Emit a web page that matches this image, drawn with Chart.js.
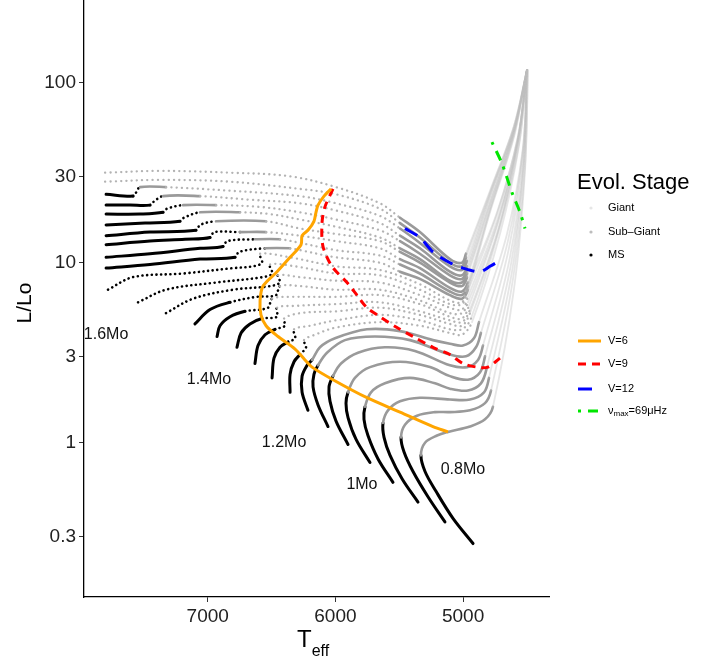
<!DOCTYPE html>
<html>
<head>
<meta charset="utf-8">
<title>HR diagram tracks</title>
<script src="https://cdn.jsdelivr.net/npm/chart.js"></script>
<style>
  html, body { margin: 0; padding: 0; background: #fff; }
  #wrap { width: 723px; height: 662px; }
</style>
</head>
<body>
<div id="wrap"><canvas id="hr" width="723" height="662"></canvas></div>
<script>
// Axis ticks
const xTicks = [7000, 6000, 5000];
const yTicks = [0.3, 1, 3, 10, 30, 100];

// -----------------------------
// Evolutionary tracks: [Teff, log L, stage]
// M = MS, m = MS (sparse), S = Sub-Giant, s = Sub-Giant (sparse), G = Giant
// -----------------------------
const trk080 = [
  [4922,-0.56,'M'],[5079,-0.42,'M'],[5212,-0.27,'M'],[5298,-0.16,'M'],
  [5330,-0.07,'S'],[5298,0.00,'S'],[5204,0.04,'S'],[5118,0.06,'S'],[4946,0.09,'S'],[4828,0.13,'S'],
  [4766,0.20,'G'],[4602,0.85,'G'],[4516,1.50,'G'],[4492,2.07,'G']
];
const trk085 = [
  [5142,-0.44,'M'],[5275,-0.30,'M'],[5392,-0.16,'M'],[5463,-0.05,'M'],
  [5486,0.03,'S'],[5455,0.10,'S'],[5361,0.15,'S'],[5220,0.17,'S'],[5103,0.17,'S'],[4946,0.18,'S'],[4828,0.22,'S'],
  [4781,0.29,'G'],[4609,0.91,'G'],[4516,1.53,'G'],[4492,2.07,'G']
];
const trk090 = [
  [5353,-0.33,'M'],[5478,-0.20,'M'],[5572,-0.07,'M'],[5619,0.03,'M'],
  [5627,0.11,'S'],[5588,0.18,'S'],[5494,0.23,'S'],[5338,0.25,'S'],[5103,0.24,'S'],[4946,0.24,'S'],[4836,0.28,'S'],
  [4797,0.36,'G'],[4617,0.95,'G'],[4524,1.55,'G'],[4500,2.07,'G']
];
const trk095 = [
  [5549,-0.22,'M'],[5666,-0.09,'M'],[5745,0.04,'M'],[5776,0.13,'M'],
  [5768,0.20,'S'],[5721,0.28,'S'],[5612,0.33,'S'],[5416,0.36,'S'],[5220,0.33,'S'],[5103,0.30,'S'],[4962,0.29,'S'],[4860,0.33,'S'],
  [4813,0.42,'G'],[4625,0.99,'G'],[4524,1.56,'G'],[4500,2.07,'G']
];
const trk100 = [
  [5729,-0.11,'M'],[5839,0.02,'M'],[5901,0.14,'M'],[5917,0.22,'M'],
  [5901,0.28,'S'],[5847,0.36,'S'],[5729,0.42,'S'],[5494,0.45,'S'],[5259,0.42,'S'],[5103,0.37,'S'],[4962,0.35,'S'],[4868,0.39,'S'],
  [4828,0.48,'G'],[4633,1.03,'G'],[4524,1.59,'G'],[4500,2.07,'G']
];
const trk105 = [
  [5901,-0.01,'M'],[5995,0.12,'M'],[6042,0.23,'M'],[6050,0.31,'M'],
  [6019,0.37,'S'],[5956,0.44,'S'],[5823,0.50,'S'],[5612,0.53,'S'],[5377,0.51,'S'],[5103,0.43,'S'],[4969,0.42,'S'],[4883,0.46,'S'],
  [4844,0.54,'G'],[4641,1.08,'G'],[4531,1.60,'G'],[4500,2.07,'G']
];
const trk110 = [
  [6058,0.09,'M'],[6136,0.21,'M'],[6175,0.31,'M'],[6168,0.38,'M'],
  [6136,0.43,'S'],[6066,0.50,'S'],[5925,0.57,'S'],[5690,0.59,'S'],[5416,0.57,'S'],[5103,0.49,'S'],[4977,0.48,'S'],[4899,0.53,'S'],
  [4860,0.61,'G'],[4649,1.12,'G'],[4531,1.63,'G'],[4500,2.07,'G']
];
const trk115 = [
  [6215,0.18,'M'],[6261,0.28,'M'],[6261,0.37,'M'],[6222,0.43,'M'],
  [6183,0.46,'S'],[6121,0.53,'S'],[6003,0.58,'S'],[5753,0.63,'S'],[5494,0.62,'S'],[5236,0.57,'S'],[5103,0.55,'S'],[5001,0.54,'S'],[4915,0.58,'S'],
  [4875,0.67,'G'],[4656,1.16,'G'],[4531,1.64,'G'],[4500,2.07,'G']
];
const trk120 = [
  [6355,0.28,'M'],[6355,0.38,'M'],[6324,0.45,'M'],
  [6277,0.49,'m'],[6230,0.53,'m'],
  [6246,0.57,'s'],[6160,0.60,'s'],[5995,0.64,'s'],[5651,0.67,'s'],[5338,0.65,'s'],[5103,0.61,'s'],[5009,0.60,'s'],
  [4930,0.67,'G'],[4711,1.16,'G'],[4562,1.65,'G'],[4500,2.07,'G']
];
const trk125 = [
  [6496,0.36,'M'],[6481,0.47,'M'],[6434,0.53,'M'],
  [6371,0.56,'m'],[6316,0.58,'m'],
  [6324,0.63,'s'],[6199,0.65,'s'],[5995,0.68,'s'],[5651,0.71,'s'],[5338,0.68,'s'],[5103,0.63,'s'],[5009,0.63,'s'],
  [4938,0.69,'G'],[4719,1.18,'G'],[4562,1.66,'G'],[4500,2.07,'G']
];
const trk130 = [
  [6630,0.44,'M'],[6606,0.54,'M'],[6551,0.60,'M'],
  [6473,0.63,'m'],[6395,0.65,'m'],
  [6402,0.69,'s'],[6277,0.72,'s'],[5995,0.73,'s'],[5651,0.75,'s'],[5338,0.71,'s'],[5103,0.66,'s'],[5009,0.65,'s'],
  [4946,0.72,'G'],[4719,1.19,'G'],[4570,1.67,'G'],[4500,2.07,'G']
];
const trk135 = [
  [6771,0.53,'M'],[6739,0.61,'M'],[6669,0.66,'M'],
  [6575,0.69,'m'],[6457,0.70,'m'],
  [6457,0.75,'s'],[6316,0.76,'s'],[5995,0.77,'s'],[5651,0.78,'s'],[5338,0.73,'s'],[5103,0.68,'s'],[5009,0.67,'s'],
  [4946,0.74,'G'],[4719,1.20,'G'],[4570,1.67,'G'],[4500,2.07,'G']
];
const trk140 = [
  [6927,0.59,'M'],[6904,0.65,'M'],[6825,0.70,'M'],
  [6708,0.73,'m'],[6528,0.75,'m'],
  [6496,0.80,'s'],[6355,0.81,'s'],[5995,0.81,'s'],[5651,0.82,'s'],[5338,0.77,'s'],[5103,0.70,'s'],[5009,0.69,'s'],
  [4954,0.76,'G'],[4727,1.22,'G'],[4570,1.68,'G'],[4500,2.07,'G']
];
const trk145 = [
  [7100,0.66,'M'],[6982,0.74,'M'],[6825,0.78,'m'],[6622,0.81,'m'],[6465,0.82,'m'],
  [6434,0.87,'s'],[6277,0.87,'s'],[5995,0.85,'s'],[5651,0.85,'s'],[5338,0.79,'s'],[5103,0.72,'s'],[5009,0.72,'s'],
  [4962,0.78,'G'],[4727,1.23,'G'],[4570,1.68,'G'],[4500,2.07,'G']
];
const trk150 = [
  [7327,0.72,'m'],[7115,0.80,'m'],[6802,0.85,'m'],[6512,0.87,'m'],[6434,0.89,'m'],
  [6449,0.93,'s'],[6277,0.92,'s'],[5995,0.90,'s'],[5651,0.89,'s'],[5338,0.82,'s'],[5103,0.75,'s'],[5009,0.74,'s'],
  [4962,0.81,'G'],[4727,1.25,'G'],[4570,1.69,'G'],[4500,2.07,'G']
];
const trk155 = [
  [7546,0.78,'m'],[7327,0.85,'m'],[6935,0.89,'m'],[6567,0.92,'m'],[6496,0.94,'m'],
  [6512,0.99,'s'],[6316,0.98,'s'],[5995,0.94,'s'],[5651,0.93,'s'],[5338,0.85,'s'],[5103,0.77,'s'],[5009,0.77,'s'],
  [4969,0.83,'G'],[4734,1.27,'G'],[4570,1.70,'G'],[4500,2.07,'G']
];
const trk160 = [
  [7781,0.85,'m'],[7585,0.92,'m'],[7193,0.94,'m'],[6802,0.97,'m'],[6645,0.98,'m'],[6575,1.00,'m'],
  [6590,1.05,'s'],[6355,1.03,'s'],[5995,0.98,'s'],[5651,0.96,'s'],[5338,0.88,'s'],[5103,0.79,'s'],[5009,0.78,'s'],
  [4977,0.85,'G'],[4734,1.28,'G'],[4570,1.70,'G'],[4500,2.07,'G']
];
const trk165 = [
  [7796,0.97,'M'],[7452,0.99,'M'],[7060,1.02,'M'],[6786,1.03,'m'],[6755,1.06,'m'],
  [6551,1.08,'S'],[6355,1.08,'s'],[6277,1.07,'s'],[5995,1.03,'s'],[5651,1.00,'s'],
  [5494,0.95,'S'],[5338,0.91,'S'],[5103,0.82,'S'],[5009,0.80,'S'],
  [4962,0.85,'G'],[4789,1.28,'G'],[4601,1.70,'G'],[4500,2.07,'G']
];
const trk170 = [
  [7796,1.03,'M'],[7452,1.05,'M'],[7060,1.08,'M'],[6880,1.09,'m'],[6849,1.12,'m'],
  [6630,1.13,'S'],[6434,1.13,'s'],[6277,1.11,'s'],[5995,1.07,'s'],[5651,1.04,'s'],
  [5494,0.99,'S'],[5338,0.94,'S'],[5103,0.84,'S'],[5009,0.82,'S'],
  [4962,0.87,'G'],[4789,1.29,'G'],[4601,1.71,'G'],[4500,2.07,'G']
];
const trk175 = [
  [7796,1.10,'M'],[7452,1.12,'M'],[7178,1.13,'M'],[6982,1.14,'m'],[6951,1.17,'m'],
  [6747,1.17,'S'],[6543,1.17,'s'],[6277,1.15,'s'],[5995,1.12,'s'],[5651,1.08,'s'],
  [5494,1.02,'S'],[5338,0.97,'S'],[5103,0.86,'S'],[5009,0.84,'S'],
  [4962,0.89,'G'],[4789,1.30,'G'],[4601,1.72,'G'],[4500,2.07,'G']
];
const trk180 = [
  [7796,1.15,'M'],[7452,1.17,'M'],[7092,1.18,'m'],[7060,1.21,'m'],
  [6935,1.23,'S'],[6543,1.23,'s'],[6277,1.19,'s'],[5995,1.16,'s'],[5651,1.12,'s'],
  [5494,1.06,'S'],[5338,1.00,'S'],[5103,0.89,'S'],[5009,0.87,'S'],
  [4969,0.92,'G'],[4789,1.32,'G'],[4601,1.73,'G'],[4500,2.07,'G']
];
const trk185 = [
  [7796,1.21,'M'],[7491,1.22,'M'],[7217,1.23,'m'],[7186,1.25,'m'],
  [7060,1.28,'S'],[6747,1.28,'s'],[6512,1.27,'s'],[6277,1.24,'s'],[5995,1.20,'s'],[5651,1.14,'s'],
  [5494,1.08,'S'],[5338,1.02,'S'],[5103,0.90,'S'],[5009,0.89,'S'],
  [4969,0.94,'G'],[4789,1.33,'G'],[4601,1.73,'G'],[4500,2.07,'G']
];
const trk190 = [
  [7796,1.27,'M'],[7530,1.27,'M'],[7350,1.28,'m'],[7319,1.30,'m'],
  [7193,1.32,'S'],[6935,1.32,'s'],[6590,1.31,'s'],[6277,1.28,'s'],[5995,1.24,'s'],[5651,1.18,'s'],
  [5494,1.12,'S'],[5338,1.05,'S'],[5103,0.93,'S'],[5009,0.91,'S'],
  [4969,0.96,'G'],[4789,1.35,'G'],[4601,1.74,'G'],[4500,2.07,'G']
];
const trk195 = [
  [7796,1.32,'M'],[7608,1.32,'M'],[7452,1.32,'m'],[7421,1.34,'m'],
  [7350,1.37,'S'],[7060,1.37,'s'],[6669,1.35,'s'],[6277,1.33,'s'],[5995,1.29,'s'],[5651,1.22,'s'],
  [5494,1.15,'S'],[5338,1.08,'S'],[5103,0.95,'S'],[5009,0.93,'S'],
  [4969,0.98,'G'],[4789,1.37,'G'],[4601,1.74,'G'],[4500,2.07,'G']
];
const trk200 = [
  [7796,1.38,'M'],[7585,1.37,'m'],[7561,1.39,'m'],
  [7530,1.42,'S'],[7327,1.42,'s'],[6825,1.40,'s'],[6277,1.37,'s'],[5995,1.33,'s'],[5651,1.26,'s'],
  [5494,1.19,'S'],[5338,1.11,'S'],[5103,0.98,'S'],[5009,0.96,'S'],
  [4969,1.01,'G'],[4789,1.38,'G'],[4601,1.75,'G'],[4500,2.07,'G']
];
const trk205 = [
  [7804,1.45,'s'],[7374,1.46,'s'],[6825,1.45,'s'],[6277,1.41,'s'],[5995,1.38,'s'],[5651,1.30,'s'],
  [5494,1.22,'S'],[5338,1.14,'S'],[5103,1.00,'S'],[5009,0.98,'S'],
  [4977,1.03,'G'],[4789,1.39,'G'],[4601,1.76,'G'],[4500,2.07,'G']
];
const trk210 = [
  [7804,1.50,'s'],[7374,1.51,'s'],[6825,1.50,'s'],[6355,1.48,'s'],[5995,1.42,'s'],[5651,1.33,'s'],
  [5494,1.25,'S'],[5338,1.17,'S'],[5103,1.02,'S'],[5009,1.00,'S'],
  [4977,1.05,'G'],[4789,1.40,'G'],[4601,1.76,'G'],[4500,2.07,'G']
];

const tracks = [trk080, trk085, trk090, trk095, trk100, trk105, trk110, trk115, trk120,
  trk125, trk130, trk135, trk140, trk145, trk150, trk155, trk160, trk165, trk170,
  trk175, trk180, trk185, trk190, trk195, trk200, trk205, trk210];

// Mass labels
const massLabels = ['1.6Mo', '1.4Mo', '1.2Mo', '1Mo', '0.8Mo'];
const massLabelTeff = [7796, 6990, 6402, 5792, 5001];
const massLabelLogL = [0.60, 0.35, 0.00, -0.23, -0.15];

// Iso-magnitude / numax lines
const v6Teff  = [6034, 6089, 6136, 6152, 6168, 6215, 6261, 6269, 6355, 6457, 6567, 6590, 6583, 6543, 6449, 6316, 6238, 6183, 6019, 5753, 5494, 5236, 5118];
const v6LogL  = [1.41, 1.37, 1.32, 1.28, 1.23, 1.18, 1.15, 1.10, 1.03, 0.95, 0.87, 0.79, 0.71, 0.65, 0.59, 0.52, 0.46, 0.42, 0.35, 0.25, 0.17, 0.09, 0.06];
const v9Teff  = [6019, 6082, 6105, 6097, 6027, 5909, 5831, 5753, 5651, 5518, 5392, 5236, 5103, 5001, 4891, 4805, 4711];
const v9LogL  = [1.41, 1.31, 1.22, 1.09, 0.98, 0.89, 0.82, 0.75, 0.70, 0.64, 0.59, 0.53, 0.49, 0.44, 0.42, 0.42, 0.47];
const v12Teff = [5455, 5338, 5236, 5103, 5001, 4868, 4789, 4695];
const v12LogL = [1.19, 1.14, 1.06, 1.00, 0.97, 0.95, 0.98, 1.02];
const numaxTeff = [4774, 4695, 4617, 4554, 4515];
const numaxLogL = [1.67, 1.55, 1.39, 1.28, 1.19];

const FONT = '"Liberation Sans", Arial, Helvetica, sans-serif';

const stageStyle = {
  M: { color: '#000000', width: 3,   dash: [] },
  m: { color: '#000000', width: 2.6, dash: [0.1, 4.6] },
  S: { color: '#9a9a9a', width: 2.6, dash: [] },
  s: { color: '#b3b3b3', width: 2.3, dash: [0.1, 5.2] },
  G: { color: 'rgba(190,190,190,0.38)', width: 1.8, dash: [] }
};

const lineKeys = [
  { label: 'V=6',  color: '#FFA500', dash: [] },
  { label: 'V=9',  color: '#FF0000', dash: [8, 6] },
  { label: 'V=12', color: '#0000FF', dash: [14, 9] },
  { label: 'numax', color: '#00E600', dash: [3, 7, 10, 7] }
];

function toPoints(teff, logL) {
  return teff.map((t, i) => ({ x: t, y: Math.pow(10, logL[i]) }));
}

function lineDataset(teff, logL, key) {
  return {
    data: toPoints(teff, logL),
    showLine: true, pointRadius: 0, tension: 0.3,
    borderColor: key.color, borderWidth: 3, borderDash: key.dash,
    borderCapStyle: 'butt', fill: false
  };
}

function trackDataset(trk) {
  const st = c => stageStyle[trk[c.p0DataIndex][2]];
  return {
    data: trk.map(p => ({ x: p[0], y: Math.pow(10, p[1]) })),
    showLine: true, pointRadius: 0, tension: 0.35,
    borderColor: '#000', borderWidth: 2, fill: false,
    borderCapStyle: 'round', borderJoinStyle: 'round',
    segment: {
      borderColor: c => st(c).color,
      borderWidth: c => st(c).width,
      borderDash: c => st(c).dash
    }
  };
}

// -----------------------------
// Labels, axis titles and legend
// -----------------------------
const annotations = {
  id: 'annotations',
  afterDraw(chart) {
    const { ctx, scales: { x, y } } = chart;
    ctx.save();

    // mass labels
    ctx.fillStyle = '#111';
    ctx.font = '16px ' + FONT;
    ctx.textAlign = 'center';
    ctx.textBaseline = 'middle';
    massLabels.forEach((t, i) => {
      ctx.fillText(t, x.getPixelForValue(massLabelTeff[i]), y.getPixelForValue(Math.pow(10, massLabelLogL[i])));
    });

    // y title
    ctx.save();
    ctx.translate(25, 303);
    ctx.rotate(-Math.PI / 2);
    ctx.font = '21px ' + FONT;
    ctx.fillStyle = '#000';
    ctx.fillText('L/Lo', 0, 0);
    ctx.restore();

    // x title with subscript
    ctx.textAlign = 'left';
    ctx.textBaseline = 'alphabetic';
    ctx.fillStyle = '#000';
    ctx.font = '24px ' + FONT;
    ctx.fillText('T', 297, 647);
    const tw = ctx.measureText('T').width;
    ctx.font = '16px ' + FONT;
    ctx.fillText('eff', 297 + tw, 656);

    // legend: evolutionary stage
    ctx.font = '22px ' + FONT;
    ctx.fillText('Evol. Stage', 577, 189);
    const stageNames = ['Giant', 'Sub\u2013Giant', 'MS'];
    const stageDots = ['#e6e6e6', '#bdbdbd', '#000'];
    const stageY = [208, 232, 255];
    ctx.font = '11px ' + FONT;
    ctx.textBaseline = 'middle';
    stageNames.forEach((n, i) => {
      ctx.fillStyle = stageDots[i];
      ctx.beginPath();
      ctx.arc(591, stageY[i], 1.6, 0, Math.PI * 2);
      ctx.fill();
      ctx.fillStyle = '#000';
      ctx.fillText(n, 608, stageY[i]);
    });

    // legend: lines
    const keyY = [341, 364, 389, 411];
    lineKeys.forEach((k, i) => {
      ctx.strokeStyle = k.color;
      ctx.lineWidth = 3;
      ctx.setLineDash(k.dash);
      ctx.beginPath();
      ctx.moveTo(578, keyY[i]);
      ctx.lineTo(601, keyY[i]);
      ctx.stroke();
      ctx.setLineDash([]);
      ctx.fillStyle = '#000';
      if (k.label === 'numax') {
        ctx.font = '11px ' + FONT;
        ctx.fillText('\u03BD', 608, keyY[i]);
        let px = 608 + ctx.measureText('\u03BD').width;
        ctx.font = '8px ' + FONT;
        ctx.fillText('max', px, keyY[i] + 3);
        px += ctx.measureText('max').width;
        ctx.font = '11px ' + FONT;
        ctx.fillText('=69\u03BCHz', px, keyY[i]);
      } else {
        ctx.font = '11px ' + FONT;
        ctx.fillText(k.label, 608, keyY[i]);
      }
    });
    ctx.restore();
  }
};

const datasets = [
  lineDataset(v6Teff, v6LogL, lineKeys[0]),
  lineDataset(v9Teff, v9LogL, lineKeys[1]),
  lineDataset(v12Teff, v12LogL, lineKeys[2]),
  lineDataset(numaxTeff, numaxLogL, lineKeys[3]),
  ...tracks.map(trackDataset)
];

const axisCommon = {
  border: { display: true, color: '#000', width: 1.3 },
  grid: { display: true, drawOnChartArea: false, drawTicks: true, tickLength: 5, tickColor: '#333', tickWidth: 1 },
  ticks: { font: { family: FONT, size: 19 }, color: '#222', padding: 3, maxRotation: 0, autoSkip: false }
};

new Chart(document.getElementById('hr'), {
  type: 'scatter',
  data: { datasets },
  options: {
    responsive: false,
    animation: false,
    devicePixelRatio: 1,
    layout: { padding: { left: 0, right: 174, top: 0, bottom: 0 } },
    plugins: { legend: { display: false }, tooltip: { enabled: false } },
    scales: {
      x: {
        ...axisCommon,
        type: 'linear', reverse: true, min: 4327, max: 7969,
        afterBuildTicks: s => { s.ticks = xTicks.map(v => ({ value: v })); },
        afterFit: s => { s.height = 65; s.paddingLeft = 0; s.paddingRight = 0; },
        ticks: { ...axisCommon.ticks, callback: v => String(v) }
      },
      y: {
        ...axisCommon,
        type: 'logarithmic', min: 0.139, max: 288,
        afterBuildTicks: s => { s.ticks = yTicks.map(v => ({ value: v })); },
        afterFit: s => { s.width = 84; s.paddingTop = 0; s.paddingBottom = 0; },
        ticks: { ...axisCommon.ticks, callback: v => String(v) }
      }
    }
  },
  plugins: [annotations]
});
</script>
</body>
</html>
